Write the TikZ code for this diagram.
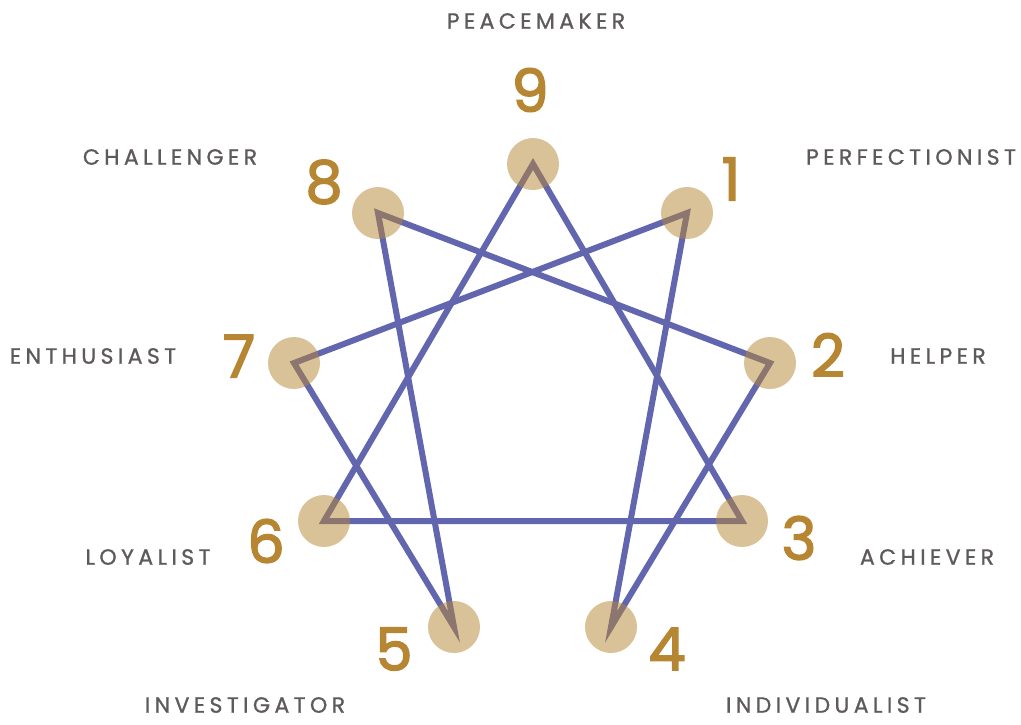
\documentclass[tikz,border=0pt]{standalone}
\usepackage{fontspec}
\setmainfont{Poppins}
\newfontfamily\numfont[FakeBold=2.5]{Poppins}
\newfontfamily\lblfont[LetterSpace=20,FakeBold=1]{Poppins}
\definecolor{lineblue}{RGB}{98,102,174}
\definecolor{gold}{RGB}{182,134,50}
\definecolor{labelgray}{RGB}{94,90,92}

\begin{document}
\begin{tikzpicture}[x=1pt,y=-1pt,
  spot/.style={circle,fill=gold,fill opacity=0.5,minimum size=52pt,inner sep=0pt},
  num/.style={text=gold,inner sep=0pt,font=\numfont\fontsize{59}{59}\selectfont},
  lbl/.style={text=labelgray,inner sep=0pt,font=\lblfont\fontsize{22}{22}\selectfont},
  wire/.style={lineblue,line width=6pt,line join=miter}]
  \useasboundingbox (0,0) rectangle (1021,724);
  % points of the figure
  \foreach \n/\x/\y in {9/533/164,1/687/213,2/770/363,3/742/521,4/611/627,
                        5/454/627,6/324/521,7/294/363,8/378/213}
    \coordinate (v\n) at (\x,\y);
  % triangle and hexad
  \draw[wire] (v9) -- (v3) -- (v6) -- cycle;
  \draw[wire] (v1) -- (v4) -- (v2) -- (v8) -- (v5) -- (v7) -- cycle;
  \foreach \n in {1,...,9} \node[spot] (s\n) at (v\n) {};
  % numbers
  \foreach \n/\x/\y in {9/530/90,1/731/179,2/828/355,3/799/538,4/667/649,
                        5/394/649,6/266/541,7/239/356,8/324/182}
    \node[num] (n\n) at (\x,\y) {\n};
  % type names
  \node[lbl] (t9) at (536,21) {PEACEMAKER};
  \node[lbl] (t1) at (911,157) {PERFECTIONIST};
  \node[lbl] (t2) at (938,356) {HELPER};
  \node[lbl] (t3) at (927,557) {ACHIEVER};
  \node[lbl] (t4) at (826,705) {INDIVIDUALIST};
  \node[lbl] (t5) at (245,705) {INVESTIGATOR};
  \node[lbl] (t6) at (148,557) {LOYALIST};
  \node[lbl] (t7) at (93,356) {ENTHUSIAST};
  \node[lbl] (t8) at (170,157) {CHALLENGER};
\end{tikzpicture}
\end{document}
